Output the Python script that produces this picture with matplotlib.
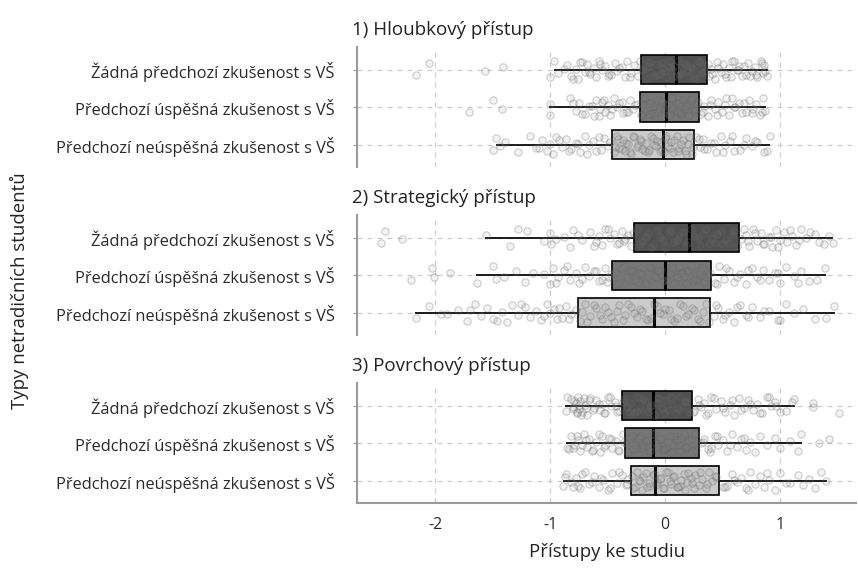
import numpy as np
import matplotlib.pyplot as plt

plt.rcParams['font.family'] = ['Open Sans', 'DejaVu Sans']
plt.rcParams['axes.unicode_minus'] = False

groups = ["Žádná předchozí zkušenost s VŠ",
          "Předchozí úspěšná zkušenost s VŠ",
          "Předchozí neúspěšná zkušenost s VŠ"]
panels = ["1) Hloubkový přístup", "2) Strategický přístup", "3) Povrchový přístup"]

# statistiky boxplotu: radky = panely, sloupce = skupiny
q1 = [[-0.21, -0.22, -0.46], [-0.27, -0.46, -0.76], [-0.38, -0.35, -0.30]]
med = [[0.09, 0.01, -0.02], [0.21, 0.00, -0.10], [-0.11, -0.11, -0.09]]
q3 = [[0.36, 0.29, 0.25], [0.64, 0.40, 0.39], [0.23, 0.29, 0.47]]
wlo = [[-0.96, -1.00, -1.46], [-1.56, -1.64, -2.17], [-0.86, -0.85, -0.88]]
whi = [[0.88, 0.87, 0.90], [1.45, 1.39, 1.47], [1.12, 1.18, 1.40]]

# jednotliva pozorovani (odhad z obrazku)
pts_hloub = [
    [-2.17, -2.05, -1.57, -1.41, -1.00, -0.97,
     -0.93, -0.85, -0.82, -0.78, -0.76, -0.72, -0.70, -0.68, -0.65, -0.62, -0.60, -0.58,
     -0.55, -0.52, -0.50, -0.47, -0.44, -0.42, -0.38, -0.35, -0.33, -0.30, -0.27, -0.24,
     -0.20, -0.17, -0.14, -0.12, -0.08, -0.05, -0.02, 0.01, 0.03, 0.06, 0.08, 0.10,
     0.13, 0.16, 0.19, 0.22, 0.25, 0.28, 0.31, 0.34,
     0.38, 0.40, 0.43, 0.45, 0.48, 0.50, 0.52, 0.55, 0.57, 0.60, 0.62, 0.64, 0.67,
     0.70, 0.72, 0.75, 0.78, 0.80, 0.83, 0.85, 0.86, 0.88,
     -0.88, -0.80, -0.74, -0.66, -0.57, -0.49, -0.40, -0.31, -0.22, -0.19, -0.15, -0.10,
     -0.06, -0.03, 0.00, 0.04, 0.07, 0.11, 0.14, 0.18, 0.21, 0.24, 0.27, 0.30, 0.33, 0.37,
     0.41, 0.46, 0.53, 0.58, 0.63, 0.68, 0.74, 0.79, 0.84, 0.87],
    [-1.71, -1.50, -1.42, -1.00, -1.00,
     -0.83, -0.78, -0.75, -0.70, -0.66, -0.62, -0.60, -0.57, -0.55, -0.52, -0.50, -0.48,
     -0.45, -0.42, -0.40, -0.37, -0.34, -0.31, -0.28, -0.25,
     -0.21, -0.19, -0.17, -0.15, -0.13, -0.11, -0.09, -0.07, -0.05, -0.03, -0.01, 0.01,
     0.03, 0.05, 0.07, 0.09, 0.11, 0.13, 0.15, 0.17, 0.19, 0.21, 0.23, 0.25, 0.27,
     0.31, 0.34, 0.37, 0.40, 0.43, 0.46, 0.49, 0.52, 0.55, 0.58, 0.61, 0.64, 0.67,
     0.70, 0.73, 0.76, 0.79, 0.82, 0.85, 0.87,
     -0.80, -0.72, -0.64, -0.58, -0.53, -0.46, -0.38, -0.32, -0.26, -0.20, -0.18, -0.14,
     -0.12, -0.10, -0.06, -0.04, 0.00, 0.02, 0.04, 0.06, 0.10, 0.12, 0.14, 0.18, 0.20,
     0.22, 0.26, 0.28, 0.33, 0.39, 0.45, 0.53, 0.60, 0.68, 0.75, 0.84],
    [-1.50, -1.47, -1.44, -1.39, -1.28, -1.18, -1.12, -1.07, -1.03, -1.00, -0.98, -0.95,
     -0.90, -0.86, -0.82, -0.78, -0.74, -0.70, -0.66, -0.63, -0.60, -0.56, -0.53, -0.50, -0.48,
     -0.45, -0.42, -0.40, -0.37, -0.35, -0.32, -0.30, -0.27, -0.25, -0.22, -0.20, -0.17,
     -0.15, -0.12, -0.10, -0.07, -0.05, -0.03, 0.00, 0.02, 0.05, 0.07, 0.10, 0.12, 0.15,
     0.17, 0.20, 0.23,
     0.27, 0.30, 0.33, 0.36, 0.40, 0.44, 0.48, 0.52, 0.56, 0.60, 0.65, 0.70, 0.75, 0.80,
     0.86, 0.91,
     -1.10, -0.92, -0.84, -0.76, -0.68, -0.58, -0.44, -0.41, -0.38, -0.34, -0.31, -0.28,
     -0.24, -0.21, -0.18, -0.14, -0.11, -0.08, -0.04, -0.01, 0.01, 0.04, 0.08, 0.11,
     0.14, 0.18, 0.21, 0.24, 0.29, 0.34, 0.42, 0.50, 0.58, 0.68, 0.78, 0.88],
]
pts_strat = [
    [-2.47, -2.44, -2.29,
     -1.56, -1.35, -1.28, -1.05, -1.00, -0.99, -0.88, -0.83, -0.80, -0.72, -0.65, -0.60,
     -0.58, -0.55, -0.52, -0.48, -0.45, -0.42, -0.40, -0.38, -0.35, -0.32, -0.30,
     -0.25, -0.20, -0.15, -0.10, -0.05, 0.00, 0.05, 0.10, 0.15, 0.20, 0.25, 0.30, 0.35,
     0.40, 0.45, 0.50, 0.55, 0.60,
     0.66, 0.70, 0.73, 0.76, 0.80, 0.83, 0.86, 0.90, 0.93, 0.96, 1.00, 1.03, 1.06, 1.10,
     1.14, 1.18, 1.22, 1.30, 1.38, 1.46,
     -1.20, -0.95, -0.76, -0.62, -0.50, -0.36, -0.28, -0.22, -0.17, -0.12, -0.07, -0.02,
     0.03, 0.08, 0.12, 0.18, 0.22, 0.28, 0.33, 0.38, 0.43, 0.48, 0.53, 0.58, 0.62, 0.68,
     0.72, 0.78, 0.85, 0.92, 0.98, 1.08, 1.16, 1.26, 1.34, 1.42],
    [-2.21, -2.03, -2.01, -1.87, -1.64, -1.50, -1.47, -1.30, -1.22, -1.05, -1.00, -0.98,
     -0.93, -0.88, -0.83, -0.78, -0.75, -0.70, -0.66, -0.62, -0.58, -0.55, -0.52, -0.49,
     -0.44, -0.40, -0.36, -0.32, -0.28, -0.24, -0.20, -0.16, -0.12, -0.08, -0.04, 0.00,
     0.04, 0.08, 0.12, 0.16, 0.20, 0.24, 0.28, 0.32, 0.36, 0.39,
     0.43, 0.47, 0.51, 0.55, 0.60, 0.65, 0.70, 0.75, 0.80, 0.85, 0.90, 0.95, 1.00, 1.05,
     1.12, 1.18, 1.25, 1.32, 1.39,
     -1.40, -1.15, -0.95, -0.85, -0.72, -0.60, -0.51, -0.47, -0.42, -0.38, -0.34, -0.30,
     -0.26, -0.22, -0.18, -0.14, -0.10, -0.06, -0.02, 0.02, 0.06, 0.10, 0.14, 0.18, 0.22,
     0.26, 0.30, 0.34, 0.37, 0.45, 0.53, 0.62, 0.72, 0.82, 0.98, 1.15],
    [-2.17, -2.05, -1.90, -1.80, -1.72, -1.65, -1.60, -1.55, -1.50, -1.42, -1.38, -1.33,
     -1.28, -1.22, -1.18, -1.12, -1.08, -1.03, -1.00, -0.97, -0.94, -0.90, -0.86, -0.82, -0.78,
     -0.74, -0.70, -0.65, -0.60, -0.55, -0.50, -0.45, -0.40, -0.35, -0.30, -0.25, -0.20,
     -0.15, -0.10, -0.05, 0.00, 0.05, 0.10, 0.15, 0.20, 0.25, 0.30, 0.35,
     0.42, 0.46, 0.50, 0.55, 0.60, 0.65, 0.70, 0.75, 0.82, 0.90, 0.98, 1.05, 1.12, 1.20,
     1.30, 1.40, 1.47,
     -1.95, -1.70, -1.46, -1.25, -1.05, -0.92, -0.84, -0.72, -0.68, -0.62, -0.57, -0.52,
     -0.47, -0.42, -0.37, -0.32, -0.27, -0.22, -0.17, -0.12, -0.07, -0.02, 0.03, 0.08,
     0.13, 0.18, 0.23, 0.28, 0.33, 0.38, 0.44, 0.52, 0.62, 0.72, 0.86, 1.00],
]
pts_povrch = [
    [-0.86, -0.82, -0.80, -0.78, -0.77, -0.76, -0.75, -0.74, -0.72, -0.70, -0.68, -0.65,
     -0.62, -0.60, -0.57, -0.54, -0.52, -0.50, -0.47, -0.44, -0.42, -0.40,
     -0.36, -0.33, -0.30, -0.27, -0.24, -0.21, -0.18, -0.15, -0.12, -0.09, -0.06, -0.03,
     0.00, 0.03, 0.06, 0.09, 0.12, 0.15, 0.18, 0.21,
     0.25, 0.28, 0.31, 0.34, 0.37, 0.40, 0.44, 0.48, 0.52, 0.56, 0.60, 0.64, 0.68, 0.72,
     0.76, 0.80, 0.84, 0.88, 0.92, 0.95, 1.00, 1.05, 1.12, 1.28, 1.28, 1.51,
     -0.85, -0.80, -0.79, -0.77, -0.75, -0.73, -0.71, -0.69, -0.66, -0.63, -0.58, -0.53,
     -0.48, -0.43, -0.37, -0.31, -0.25, -0.19, -0.13, -0.07, -0.01, 0.05, 0.11, 0.17,
     0.24, 0.29, 0.35, 0.42, 0.50, 0.58, 0.66, 0.74, 0.82, 0.90, 0.96, 1.10],
    [-0.85, -0.82, -0.79, -0.76, -0.74, -0.71, -0.68, -0.66, -0.63, -0.60, -0.57, -0.55,
     -0.52, -0.49, -0.46, -0.43, -0.40, -0.37,
     -0.34, -0.31, -0.28, -0.25, -0.22, -0.19, -0.16, -0.13, -0.10, -0.07, -0.04, -0.01,
     0.02, 0.05, 0.08, 0.11, 0.14, 0.17, 0.20, 0.23, 0.26,
     0.31, 0.34, 0.37, 0.40, 0.43, 0.46, 0.50, 0.54, 0.58, 0.62, 0.66, 0.70, 0.74, 0.78,
     0.82, 0.88, 0.95, 1.00, 1.08, 1.15, 1.18, 1.34, 1.42,
     -0.84, -0.80, -0.77, -0.72, -0.69, -0.64, -0.58, -0.53, -0.47, -0.41, -0.36, -0.32,
     -0.29, -0.26, -0.23, -0.20, -0.17, -0.14, -0.11, -0.08, -0.05, -0.02, 0.01, 0.04,
     0.07, 0.10, 0.13, 0.16, 0.19, 0.22, 0.27, 0.33, 0.39, 0.45, 0.56, 0.68],
    [-0.89, -0.86, -0.82, -0.78, -0.74, -0.70, -0.66, -0.62, -0.58, -0.54, -0.50, -0.46,
     -0.42, -0.38, -0.34, -0.32,
     -0.28, -0.25, -0.22, -0.19, -0.16, -0.13, -0.10, -0.07, -0.04, -0.01, 0.02, 0.05,
     0.08, 0.11, 0.14, 0.17, 0.20, 0.23, 0.26, 0.29, 0.32, 0.35, 0.38, 0.41, 0.44,
     0.50, 0.54, 0.58, 0.62, 0.66, 0.70, 0.74, 0.78, 0.82, 0.86, 0.90, 0.95, 1.00, 1.08,
     1.15, 1.20, 1.25, 1.30, 1.35, 1.40,
     -0.87, -0.80, -0.76, -0.72, -0.64, -0.56, -0.48, -0.40, -0.33, -0.29, -0.26, -0.23,
     -0.20, -0.17, -0.14, -0.11, -0.08, -0.05, -0.02, 0.01, 0.04, 0.07, 0.10, 0.13,
     0.16, 0.19, 0.22, 0.25, 0.30, 0.36, 0.43, 0.52, 0.60, 0.72, 0.88, 1.05],
]
all_pts = [pts_hloub, pts_strat, pts_povrch]

# svisly posun bodu (jitter)
jitter = [0.14, -0.18, 0.04, -0.07, 0.21, -0.24, 0.10, -0.12, 0.18, -0.02, 0.24,
          -0.20, 0.06, -0.14, 0.12, -0.05, 0.20, -0.23, 0.01, -0.10, 0.16]

box_colors = ['#505050', '#767676', '#cbcbcb']

fig = plt.figure(figsize=(8.58, 5.70), dpi=100)
bottoms = [0.707, 0.412, 0.1175]
axes = [fig.add_axes([0.416, b, 0.582, 0.2105]) for b in bottoms]

for k, ax in enumerate(axes):
    stats = []
    for i in range(3):
        stats.append(dict(med=med[k][i], q1=q1[k][i], q3=q3[k][i],
                          whislo=wlo[k][i], whishi=whi[k][i], fliers=[]))
    bp = ax.bxp(stats, positions=[0, 1, 2], orientation='horizontal', widths=0.78,
                patch_artist=True, showcaps=False, showfliers=False,
                boxprops=dict(edgecolor='black', linewidth=1.2),
                whiskerprops=dict(color='#1a1a1a', linewidth=1.4),
                medianprops=dict(color='black', linewidth=2.2))
    for patch, c in zip(bp['boxes'], box_colors):
        patch.set_facecolor(c)
    for i, xs in enumerate(all_pts[k]):
        ys = [i + jitter[j % len(jitter)] for j in range(len(xs))]
        ax.scatter(xs, ys, s=28, facecolor=(0.5, 0.5, 0.5, 0.1),
                   edgecolor=(0.4, 0.4, 0.4, 0.3), linewidth=0.8, zorder=4)

    ax.set_ylim(2.6, -0.6)
    ax.set_xlim(-2.68, 1.66)
    ax.set_yticks([0, 1, 2])
    ax.set_yticklabels(groups, fontsize=11.8, color='#2a2a2a')
    ax.set_xticks([-2, -1, 0, 1])
    ax.grid(True, linestyle=(0, (4, 4)), color='#cccccc', linewidth=0.9)
    ax.set_axisbelow(True)
    for s in ['top', 'right']:
        ax.spines[s].set_visible(False)
    ax.spines['left'].set_color('#999999')
    ax.spines['left'].set_linewidth(1.5)
    ax.tick_params(axis='y', length=3, color='#999999', pad=13)
    ax.tick_params(axis='x', length=0, pad=10, labelsize=11.5, labelcolor='#2a2a2a')
    if k < 2:
        ax.spines['bottom'].set_visible(False)
        ax.tick_params(axis='x', labelbottom=False)
    else:
        ax.spines['bottom'].set_color('#999999')
        ax.spines['bottom'].set_linewidth(1.5)
    ax.set_title(panels[k], loc='left', x=-0.01, pad=9, fontsize=13.5, color='#222222')

axes[2].set_xlabel("Přístupy ke studiu", fontsize=13.4, labelpad=7, color='#222222')
fig.text(0.023, 0.49, "Typy netradičních studentů", rotation=90, fontsize=13.4,
         ha='center', va='center', color='#222222')

fig.savefig("out.png", dpi=100)
